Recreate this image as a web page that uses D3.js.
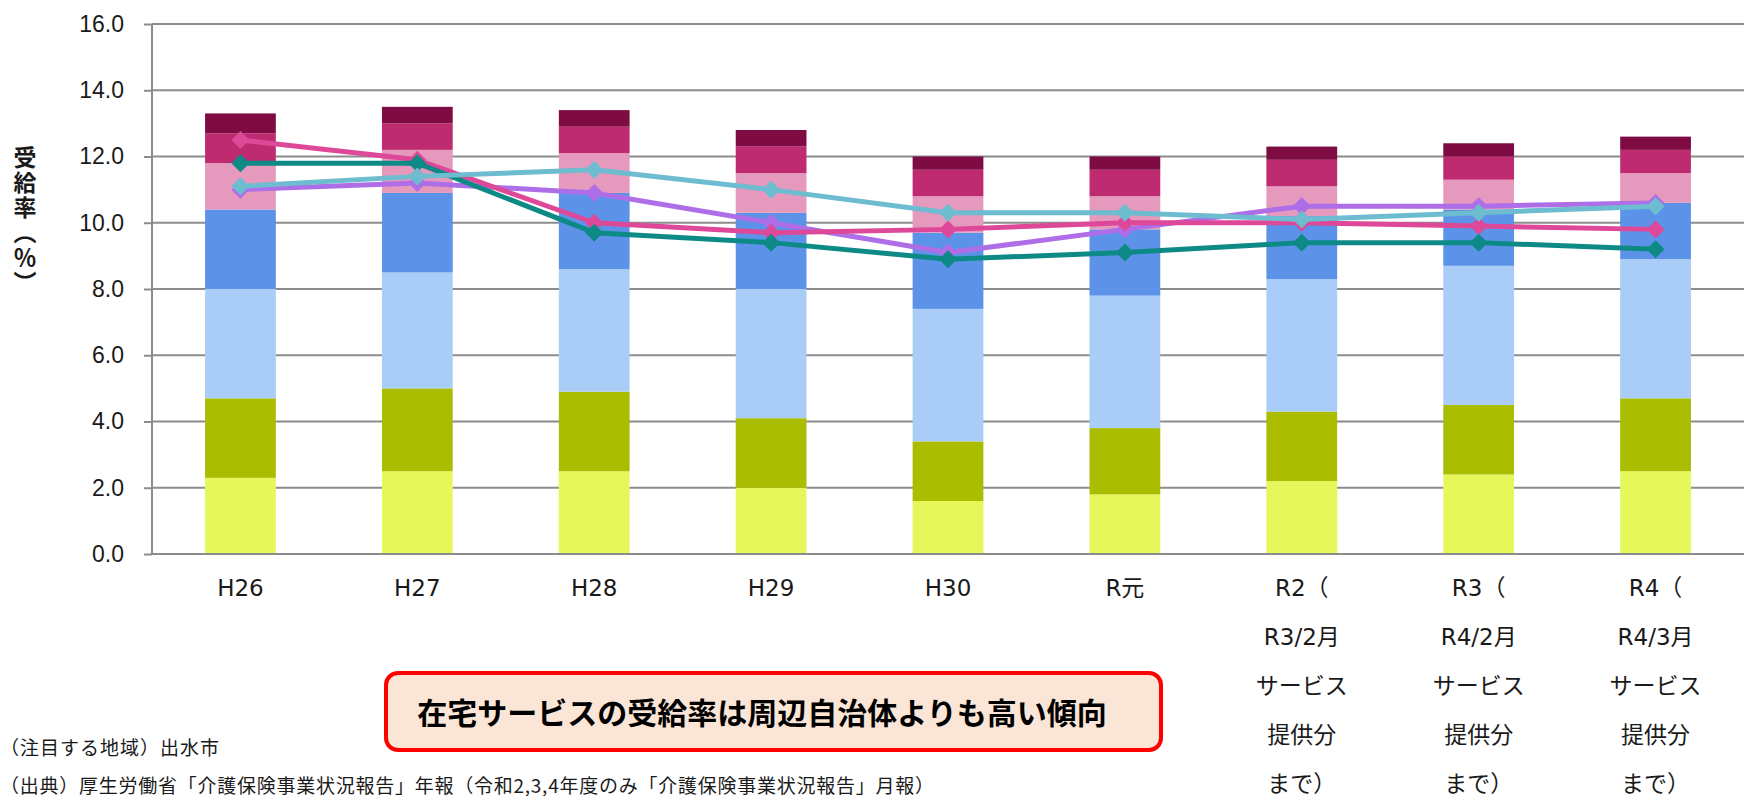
<!DOCTYPE html>
<html>
<head>
<meta charset="utf-8">
<script src="https://cdn.jsdelivr.net/npm/d3@7"></script>
<style>
  body { margin: 0; background: #fff; }
  svg { display: block; font-family: "DejaVu Sans", "Noto Sans CJK JP", sans-serif; }
  .grid line { stroke: #8c8c8c; stroke-width: 2; }
  .y-axis path { display: none; }
  .y-axis line { stroke: #8c8c8c; stroke-width: 2; }
  .y-axis text { font-size: 23px; fill: #1a1a1a; }
  .x-label { font-size: 23px; fill: #1a1a1a; }
</style>
</head>
<body>
<div id="chart"></div>
<script>
var categories = ["H26", "H27", "H28", "H29", "H30", "R元", "R2", "R3", "R4"];
var categoryLabels = [
    ["H26"], ["H27"], ["H28"], ["H29"], ["H30"], ["R元"],
    ["R2（", "R3/2月", "サービス", "提供分", "まで）"],
    ["R3（", "R4/2月", "サービス", "提供分", "まで）"],
    ["R4（", "R4/3月", "サービス", "提供分", "まで）"]
];

// stacked segments, bottom to top
var shien1  = [2.3, 2.5, 2.5, 2.0, 1.6, 1.8, 2.2, 2.4, 2.5];
var shien2  = [2.4, 2.5, 2.4, 2.1, 1.8, 2.0, 2.1, 2.1, 2.2];
var kaigo1  = [3.3, 3.5, 3.7, 3.9, 4.0, 4.0, 4.0, 4.2, 4.2];
var kaigo2  = [2.4, 2.4, 2.3, 2.3, 2.3, 2.0, 1.9, 1.7, 1.7];
var kaigo3  = [1.4, 1.3, 1.2, 1.2, 1.1, 1.0, 0.9, 0.9, 0.9];
var kaigo4  = [0.9, 0.8, 0.8, 0.8, 0.8, 0.8, 0.8, 0.7, 0.7];
var kaigo5  = [0.6, 0.5, 0.5, 0.5, 0.4, 0.4, 0.4, 0.4, 0.4];

// comparison lines
var linePurple = [11.0, 11.2, 10.9, 10.0, 9.1, 9.8, 10.5, 10.5, 10.6];
var linePink   = [12.5, 11.9, 10.0, 9.7, 9.8, 10.0, 10.0, 9.9, 9.8];
var lineTeal   = [11.8, 11.8, 9.7, 9.4, 8.9, 9.1, 9.4, 9.4, 9.2];
var lineCyan   = [11.1, 11.4, 11.6, 11.0, 10.3, 10.3, 10.1, 10.3, 10.5];

var yTicks = [0, 2, 4, 6, 8, 10, 12, 14, 16];

var segments = [shien1, shien2, kaigo1, kaigo2, kaigo3, kaigo4, kaigo5];
var segColors = ["#e5f75b", "#aabd00", "#a9cdf6", "#5c93e8", "#e599bd", "#bf2b70", "#7e0c42"];
var lines = [
    {values: linePurple, color: "#ae6ee8"},
    {values: linePink, color: "#de4898"},
    {values: lineTeal, color: "#0e8a86"},
    {values: lineCyan, color: "#6dbcd0"}
];

var W = 1751, H = 796;
var margin = {left: 152, right: 7, top: 24, bottom: 242};

var svg = d3.select("#chart").append("svg")
    .attr("width", W)
    .attr("height", H);

var x = d3.scaleBand()
    .domain(categories)
    .range([margin.left, W - margin.right])
    .paddingInner(0.6)
    .paddingOuter(0.3);

var y = d3.scaleLinear()
    .domain([0, 16])
    .range([H - margin.bottom, margin.top]);

// gridlines
svg.append("g").attr("class", "grid")
    .selectAll("line")
    .data(yTicks)
    .enter().append("line")
    .attr("x1", margin.left).attr("x2", W - margin.right)
    .attr("y1", function(d) { return y(d); })
    .attr("y2", function(d) { return y(d); });

// y axis
var yAxis = d3.axisLeft(y)
    .tickValues(yTicks)
    .tickFormat(d3.format(".1f"))
    .tickSize(8)
    .tickPadding(20);
svg.append("g").attr("class", "y-axis")
    .attr("transform", "translate(" + margin.left + ",0)")
    .call(yAxis);
svg.append("line")
    .attr("x1", margin.left).attr("x2", margin.left)
    .attr("y1", y(16)).attr("y2", y(0))
    .attr("stroke", "#8c8c8c").attr("stroke-width", 2);

// stacked bars
var table = categories.map(function(c, i) {
    var row = {cat: c};
    segments.forEach(function(s, k) { row["s" + k] = s[i]; });
    return row;
});
var stack = d3.stack().keys(segments.map(function(s, k) { return "s" + k; }));
var stacked = stack(table);

svg.append("g").selectAll("g")
    .data(stacked)
    .enter().append("g")
    .attr("fill", function(d, k) { return segColors[k]; })
    .selectAll("rect")
    .data(function(d) { return d; })
    .enter().append("rect")
    .attr("x", function(d) { return x(d.data.cat); })
    .attr("width", x.bandwidth())
    .attr("y", function(d) { return y(d[1]); })
    .attr("height", function(d) { return y(d[0]) - y(d[1]); });

// base line over bars
svg.append("line")
    .attr("x1", margin.left).attr("x2", W - margin.right)
    .attr("y1", y(0)).attr("y2", y(0))
    .attr("stroke", "#8c8c8c").attr("stroke-width", 2);

// lines with diamond markers
var cx = function(i) { return x(categories[i]) + x.bandwidth() / 2; };
var valueline = d3.line()
    .x(function(d, i) { return cx(i); })
    .y(function(d) { return y(d); });

var diamond = function(px, py) {
    var r = 9;
    return "M" + px + "," + (py - r) + "L" + (px + r) + "," + py +
        "L" + px + "," + (py + r) + "L" + (px - r) + "," + py + "Z";
};

lines.forEach(function(l) {
    var g = svg.append("g");
    g.append("path")
        .datum(l.values)
        .attr("fill", "none")
        .attr("stroke", l.color)
        .attr("stroke-width", 5)
        .attr("stroke-linejoin", "round")
        .attr("d", valueline);
    g.selectAll("path.mk")
        .data(l.values)
        .enter().append("path")
        .attr("class", "mk")
        .attr("fill", l.color)
        .attr("d", function(d, i) { return diamond(cx(i), y(d)); });
});

// x labels
var xl = svg.append("g");
categoryLabels.forEach(function(lbl, i) {
    var t = xl.append("text")
        .attr("class", "x-label")
        .attr("text-anchor", "middle")
        .attr("dominant-baseline", "central");
    lbl.forEach(function(s, j) {
        t.append("tspan")
            .attr("x", cx(i))
            .attr("y", 588 + j * 49)
            .text(s);
    });
});

// y axis title
svg.append("text")
    .attr("x", 25)
    .attr("y", 221)
    .attr("text-anchor", "middle")
    .style("writing-mode", "vertical-rl")
    .style("font-family", "'Noto Sans CJK JP', sans-serif")
    .style("font-weight", "bold")
    .style("font-size", "23px")
    .style("letter-spacing", "2px")
    .attr("fill", "#1a1a1a")
    .text("受給率（％）");

// callout box
svg.append("rect")
    .attr("x", 386).attr("y", 673)
    .attr("width", 775).attr("height", 77)
    .attr("rx", 12)
    .attr("fill", "#fbe5d6")
    .attr("stroke", "#ff0000")
    .attr("stroke-width", 4);
svg.append("text")
    .attr("x", 762).attr("y", 711)
    .attr("text-anchor", "middle")
    .attr("dominant-baseline", "central")
    .style("font-family", "'Noto Sans CJK JP', sans-serif")
    .style("font-weight", "bold")
    .style("font-size", "30px")
    .attr("fill", "#000")
    .text("在宅サービスの受給率は周辺自治体よりも高い傾向");

// notes
svg.append("text")
    .attr("x", 0).attr("y", 746)
    .attr("dominant-baseline", "central")
    .style("font-family", "'Noto Sans CJK JP', sans-serif")
    .style("font-size", "19px")
    .style("letter-spacing", "1px")
    .attr("fill", "#1a1a1a")
    .text("（注目する地域）出水市");
svg.append("text")
    .attr("x", 0).attr("y", 784)
    .attr("dominant-baseline", "central")
    .style("font-family", "'Noto Sans CJK JP', sans-serif")
    .style("font-size", "19px")
    .style("letter-spacing", "0.75px")
    .attr("fill", "#1a1a1a")
    .text("（出典）厚生労働省「介護保険事業状況報告」年報（令和2,3,4年度のみ「介護保険事業状況報告」月報）");
</script>
</body>
</html>
